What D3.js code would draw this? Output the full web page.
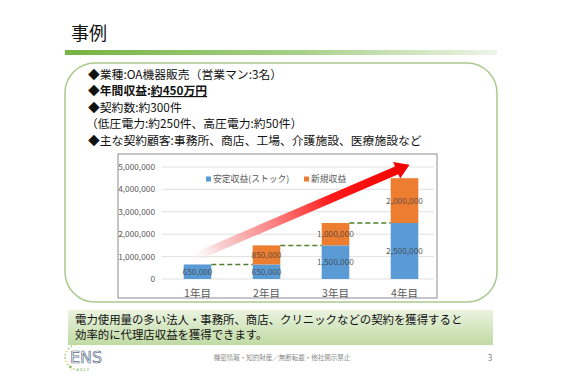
<!DOCTYPE html>
<html>
<head>
<meta charset="utf-8">
<script src="https://cdn.jsdelivr.net/npm/d3@7"></script>
<style>
  body { margin: 0; background: #fff; }
  svg { display: block; font-family: "Noto Sans CJK JP", "Noto Sans", sans-serif; }
</style>
</head>
<body>
<div id="slide"></div>
<script>
// data
const years = ["1年目", "2年目", "3年目", "4年目"];
const stock = [650000, 650000, 1500000, 2500000];      // 安定収益(ストック)
const newRevenue = [0, 850000, 1000000, 2000000];      // 新規収益
const yTicks = [0, 1000000, 2000000, 3000000, 4000000, 5000000];
const seriesNames = ["安定収益(ストック)", "新規収益"];
const seriesColors = ["#5b9bd5", "#ed7d31"];

const bullets = [
    "◆業種:OA機器販売（営業マン:3名）",
    "◆年間収益:約450万円",
    "◆契約数:約300件",
    "（低圧電力:約250件、高圧電力:約50件）",
    "◆主な契約顧客:事務所、商店、工場、介護施設、医療施設など"
];
const summary = [
    "電力使用量の多い法人・事務所、商店、クリニックなどの契約を獲得すると",
    "効率的に代理店収益を獲得できます。"
];

const width = 564;
const height = 376;

const svg = d3.select("#slide")
    .append("svg")
    .attr("width", width)
    .attr("height", height);

const defs = svg.append("defs");

// ---- title ----
svg.append("text")
    .attr("x", 71)
    .attr("y", 40)
    .attr("font-size", 18)
    .attr("fill", "#111")
    .text("事例");

const barGrad = defs.append("linearGradient").attr("id", "title-bar");
barGrad.append("stop").attr("offset", "0%").attr("stop-color", "#76b341");
barGrad.append("stop").attr("offset", "55%").attr("stop-color", "#a9d08a");
barGrad.append("stop").attr("offset", "100%").attr("stop-color", "#eef5e8");

svg.append("rect")
    .attr("x", 65).attr("y", 50)
    .attr("width", 432).attr("height", 5)
    .attr("fill", "url(#title-bar)");

// ---- rounded info box ----
svg.append("rect")
    .attr("x", 65).attr("y", 63)
    .attr("width", 432).attr("height", 239)
    .attr("rx", 30)
    .attr("fill", "#fff")
    .attr("stroke", "#a9c98c")
    .attr("stroke-width", 1.5);

bullets.forEach((line, i) => {
    const t = svg.append("text")
        .attr("x", i === 3 ? 86 : 88)
        .attr("y", 78.5 + i * 16.5)
        .attr("font-size", 11.8)
        .attr("fill", "#111");
    if (i === 1) {
        t.attr("font-weight", "bold");
        t.append("tspan").text("◆年間収益:");
        t.append("tspan").attr("text-decoration", "underline").text("約450万円");
    } else {
        t.text(line);
    }
});

// ---- chart ----
svg.append("rect")
    .attr("x", 118).attr("y", 154)
    .attr("width", 319).attr("height", 144)
    .attr("fill", "#fff")
    .attr("stroke", "#8c8c8c")
    .attr("stroke-width", 1);

const x = d3.scaleBand()
    .domain(years)
    .range([163, 439])
    .paddingInner(0.6)
    .paddingOuter(0.3);

const y = d3.scaleLinear()
    .domain([0, 5000000])
    .range([279, 167]);

const chart = svg.append("g");

chart.selectAll(".grid")
    .data(yTicks)
    .enter()
    .append("line")
    .attr("x1", 162).attr("x2", 434)
    .attr("y1", d => y(d)).attr("y2", d => y(d))
    .attr("stroke", "#d9d9d9")
    .attr("stroke-width", 0.8);

chart.selectAll(".ytick")
    .data(yTicks)
    .enter()
    .append("text")
    .attr("x", 155)
    .attr("y", d => y(d))
    .attr("dy", "0.35em")
    .attr("text-anchor", "end")
    .attr("font-size", 8.3)
    .attr("fill", "#595959")
    .text(d => d3.format(",")(d));

const stackData = years.map((yr, i) => ({ year: yr, stock: stock[i], fresh: newRevenue[i] }));
const series = d3.stack().keys(["stock", "fresh"])(stackData);

const layers = chart.selectAll(".layer")
    .data(series)
    .enter()
    .append("g")
    .attr("fill", (d, i) => seriesColors[i]);

layers.selectAll("rect")
    .data(d => d)
    .enter()
    .append("rect")
    .attr("x", d => x(d.data.year))
    .attr("width", x.bandwidth())
    .attr("y", d => y(d[1]))
    .attr("height", d => y(d[0]) - y(d[1]));

layers.selectAll(".lbl")
    .data(d => d.filter(p => p[1] - p[0] > 0))
    .enter()
    .append("text")
    .attr("x", d => x(d.data.year) + x.bandwidth() / 2)
    .attr("y", d => (y(d[0]) + y(d[1])) / 2)
    .attr("dy", "0.35em")
    .attr("text-anchor", "middle")
    .attr("font-size", 8.3)
    .attr("fill", "#404040")
    .attr("fill-opacity", 0.85)
    .text(d => d3.format(",")(d[1] - d[0]));

// dashed step lines between bars
chart.selectAll(".step")
    .data(years.slice(0, -1))
    .enter()
    .append("line")
    .attr("x1", d => x(d) + x.bandwidth())
    .attr("x2", (d, i) => x(years[i + 1]))
    .attr("y1", (d, i) => y(stock[i] + newRevenue[i]))
    .attr("y2", (d, i) => y(stock[i] + newRevenue[i]))
    .attr("stroke", "#4f7f2c")
    .attr("stroke-width", 1.5)
    .attr("stroke-dasharray", "5,3");

chart.selectAll(".xlabel")
    .data(years)
    .enter()
    .append("text")
    .attr("x", d => x(d) + x.bandwidth() / 2)
    .attr("y", 293)
    .attr("dy", "0.35em")
    .attr("text-anchor", "middle")
    .attr("font-size", 10.5)
    .attr("fill", "#595959")
    .text(d => d);

// legend
const legendX = [206, 304];
seriesNames.forEach((name, i) => {
    chart.append("rect")
        .attr("x", legendX[i]).attr("y", 176.5)
        .attr("width", 5).attr("height", 5)
        .attr("fill", seriesColors[i]);
    chart.append("text")
        .attr("x", legendX[i] + 7)
        .attr("y", 179)
        .attr("dy", "0.35em")
        .attr("font-size", 8.8)
        .attr("fill", "#595959")
        .text(name);
});

// growth arrow
const x0 = x(years[0]) + x.bandwidth() / 2 - 12, y0 = y(800000);
const x1 = x(years[3]) + x.bandwidth() / 2 + 5, y1 = y(5100000);
const angle = Math.atan2(y1 - y0, x1 - x0) * 180 / Math.PI;
const len = Math.hypot(x1 - x0, y1 - y0);

const arrowGrad = defs.append("linearGradient")
    .attr("id", "arrow-grad")
    .attr("gradientUnits", "userSpaceOnUse")
    .attr("x1", 0).attr("y1", 0).attr("x2", len).attr("y2", 0);
arrowGrad.append("stop").attr("offset", "0%").attr("stop-color", "#ffffff").attr("stop-opacity", 0);
arrowGrad.append("stop").attr("offset", "15%").attr("stop-color", "#f6c6c6").attr("stop-opacity", 0.8);
arrowGrad.append("stop").attr("offset", "65%").attr("stop-color", "#ff1a1a");
arrowGrad.append("stop").attr("offset", "100%").attr("stop-color", "#f00000");

const shaft = 4.2, head = 9, headLen = 14;
chart.append("path")
    .attr("transform", `translate(${x0},${y0}) rotate(${angle})`)
    .attr("d", `M0,${-shaft}L${len - headLen},${-shaft}L${len - headLen},${-head}L${len},0L${len - headLen},${head}L${len - headLen},${shaft}L0,${shaft}Z`)
    .attr("fill", "url(#arrow-grad)");

// ---- summary box ----
const sumGrad = defs.append("linearGradient")
    .attr("id", "sum-grad")
    .attr("x1", 0).attr("y1", 0).attr("x2", 0).attr("y2", 1);
sumGrad.append("stop").attr("offset", "0%").attr("stop-color", "#eaf3e0");
sumGrad.append("stop").attr("offset", "100%").attr("stop-color", "#c0daa3");

svg.append("rect")
    .attr("x", 68).attr("y", 310)
    .attr("width", 425).attr("height", 35)
    .attr("fill", "url(#sum-grad)");

summary.forEach((line, i) => {
    svg.append("text")
        .attr("x", 75)
        .attr("y", 324 + i * 15)
        .attr("font-size", 11.4)
        .attr("fill", "#111")
        .text(line);
});

// ---- footer ----
svg.append("text")
    .attr("x", 282).attr("y", 360)
    .attr("text-anchor", "middle")
    .attr("font-size", 6.5)
    .attr("fill", "#8a8a8a")
    .text("機密情報・知的財産／無断転載・他社開示禁止");

svg.append("text")
    .attr("x", 490).attr("y", 361)
    .attr("text-anchor", "middle")
    .attr("font-size", 9)
    .attr("fill", "#8a8a8a")
    .text("3");

// logo
const logo = svg.append("g");
d3.range(11).forEach(k => {
    const a = (110 + k * 15) * Math.PI / 180;
    logo.append("circle")
        .attr("cx", 80 + 15 * Math.cos(a))
        .attr("cy", 357 - 13 * Math.sin(a))
        .attr("r", k === 8 ? 1.4 : 0.8)
        .attr("fill", k % 3 === 0 ? "#d6c84a" : "#8cc45a");
});
logo.append("text")
    .attr("x", 70).attr("y", 363)
    .attr("font-size", 16)
    .attr("font-family", "DejaVu Sans")
    .attr("fill", "#fff")
    .attr("stroke", "#5f7190")
    .attr("stroke-width", 0.7)
    .text("ENS");
logo.append("text")
    .attr("x", 70).attr("y", 370.5)
    .attr("font-size", 3.2)
    .attr("fill", "#6aa84f")
    .text("イーエヌエス");
</script>
</body>
</html>
